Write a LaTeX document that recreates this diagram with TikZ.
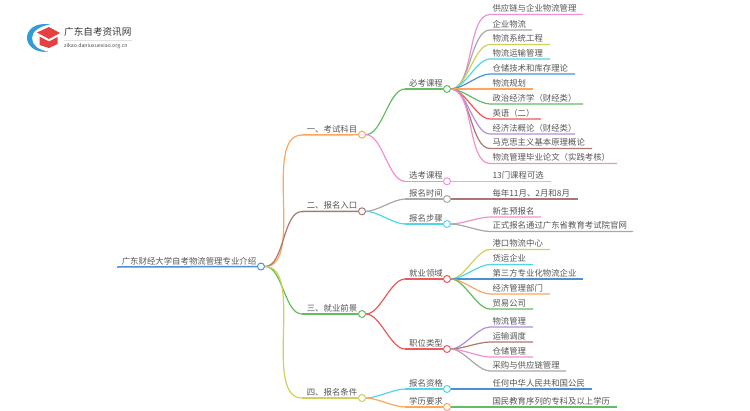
\documentclass[tikz,border=0pt]{standalone}
\usepackage{fontspec}
\setmainfont{Noto Sans CJK SC}
\usetikzlibrary{positioning}
\definecolor{cblue}{HTML}{4A90D2}
\definecolor{corange}{HTML}{FFA55C}
\definecolor{cbrown}{HTML}{A9796F}
\definecolor{cgreen}{HTML}{62BC62}
\definecolor{colive}{HTML}{D0D05C}
\definecolor{cpink}{HTML}{EE90D2}
\definecolor{cgray}{HTML}{A8A8A8}
\definecolor{ccyan}{HTML}{50D6E8}
\definecolor{cred}{HTML}{EE5858}
\definecolor{cpurple}{HTML}{B08FDC}
\definecolor{ctext}{HTML}{555555}
\definecolor{clogoblue}{HTML}{2F9BD8}
\definecolor{clogored}{HTML}{E5403F}
\tikzset{
  txt/.style={anchor=south west, inner xsep=2.5pt, inner ysep=1.6pt, outer sep=0pt, text=ctext, font=\fontsize{8.4}{10}\selectfont, text height=7.4pt, text depth=1pt, align=left},
  leaf/.style={txt, text width=#1pt-5pt},
  joint/.style={circle, draw, fill=white, line width=1pt, inner sep=0pt, minimum size=7pt},
  link/.style={line width=1.2pt},
  trunk/.style={line width=1.5pt}
}
\begin{document}
\begin{tikzpicture}[x=1pt, y=-1pt]
  \useasboundingbox (0,0) rectangle (750,410);
  % logo
  \fill[clogoblue] (50,24.5) .. controls (35,22) and (26.5,30) .. (27,38.5) .. controls (27.5,46) and (36,53.5) .. (48,51.5) .. controls (38,50) and (32,45) .. (32,38) .. controls (32,31) and (40,26) .. (50,24.5) -- cycle;
  \fill[clogored] (37,32.5) -- (49,27) -- (60,33) -- (49,39) -- cycle;
  \fill[clogored] (39.5,36.5) -- (49,41.5) -- (57.5,37) -- (57.5,44) -- (49,48) -- (39.5,45) -- cycle;
  \node[inner sep=0pt, anchor=west, text=black!80, font=\fontsize{9.6}{11}\selectfont] (logotitle) at (64,31.5) {广东自考资讯网};
  \node[inner sep=0pt, anchor=west, text=black!70, font=\fontsize{5.2}{6}\selectfont] (logourl) at (64,46.5) {zikao.daniuxuexiao.org.cn};
  \draw[black!12, line width=.5pt] (logotitle.south west |- 0,40) -- (logotitle.south east |- 0,40);

  % root
  \node[txt, minimum width=144pt] (root) at (117,267) {广东财经大学自考物流管理专业介绍};
  \node[joint, draw=cblue] (r) at (261,266.5) {};

  % first level
  \node[txt, minimum width=60pt] (a1) at (302,135) {一、考试科目};
  \node[txt, minimum width=60pt] (a2) at (302,211.5) {二、报名入口};
  \node[txt, minimum width=60pt] (a3) at (302,314) {三、就业前景};
  \node[txt, minimum width=60pt] (a4) at (302,398) {四、报名条件};
  \node[joint, draw=corange] (ja1) at (362,134.7) {};
  \node[joint, draw=cbrown] (ja2) at (362,211.3) {};
  \node[joint, draw=cgreen] (ja3) at (362,314) {};
  \node[joint, draw=colive] (ja4) at (362,398) {};

  % second level
  \node[txt, minimum width=42pt] (b1) at (405,89) {必考课程};
  \node[txt, minimum width=42pt] (b2) at (405,181.3) {选考课程};
  \node[txt, minimum width=42pt] (b3) at (405,199) {报名时间};
  \node[txt, minimum width=42pt] (b4) at (405,224) {报名步骤};
  \node[txt, minimum width=42pt] (b5) at (405,279) {就业领域};
  \node[txt, minimum width=42pt] (b6) at (405,349) {职位类型};
  \node[txt, minimum width=42pt] (b7) at (405,389) {报名资格};
  \node[txt, minimum width=42pt] (b8) at (405,407) {学历要求};
  \node[joint, draw=cgreen] (jb1) at (447,89) {};
  \node[joint, draw=cpink] (jb2) at (447,181.3) {};
  \node[joint, draw=cgray] (jb3) at (447,199) {};
  \node[joint, draw=ccyan] (jb4) at (447,224) {};
  \node[joint, draw=cred] (jb5) at (447,279) {};
  \node[joint, draw=cred] (jb6) at (447,349) {};
  \node[joint, draw=ccyan] (jb7) at (447,389) {};
  \node[joint, draw=corange] (jb8) at (447,407) {};

  % leaves
  \node[leaf=93] (c1) at (490,14.5) {供应链与企业物流管理};
  \node[leaf=42] (c2) at (490,30) {企业物流};
  \node[leaf=60] (c3) at (490,44.5) {物流系统工程};
  \node[leaf=60] (c4) at (490,59) {物流运输管理};
  \node[leaf=85] (c5) at (490,74) {仓储技术和库存理论};
  \node[leaf=43] (c6) at (490,89) {物流规划};
  \node[leaf=93] (c7) at (490,104) {政治经济学（财经类）};
  \node[leaf=51] (c8) at (490,119) {英语（二）};
  \node[leaf=85] (c9) at (490,134) {经济法概论（财经类）};
  \node[leaf=102] (c10) at (490,148.5) {马克思主义基本原理概论};
  \node[leaf=127] (c11) at (490,163.5) {物流管理毕业论文（实践考核）};
  \node[leaf=61] (c12) at (490,181.3) {13门课程可选};
  \node[leaf=88] (c13) at (490,199) {每年11月、2月和8月};
  \node[leaf=51] (c14) at (490,217) {新生预报名};
  \node[leaf=143] (c15) at (490,231.5) {正式报名通过广东省教育考试院官网};
  \node[leaf=60] (c16) at (490,249.5) {港口物流中心};
  \node[leaf=43] (c17) at (490,264.5) {货运企业};
  \node[leaf=93] (c18) at (490,279) {第三方专业化物流企业};
  \node[leaf=60] (c19) at (490,294) {经济管理部门};
  \node[leaf=43] (c20) at (490,309) {贸易公司};
  \node[leaf=43] (c21) at (490,327) {物流管理};
  \node[leaf=43] (c22) at (490,342) {运输调度};
  \node[leaf=43] (c23) at (490,357) {仓储管理};
  \node[leaf=76] (c24) at (490,371) {采购与供应链管理};
  \node[leaf=102] (c25) at (490,389) {任何中华人民共和国公民};
  \node[leaf=127] (c26) at (490,407) {国民教育序列的专科及以上学历};

  % trunk lines
  \draw[trunk, cblue] (root.south west) -- (r);
  \draw[trunk, corange] (a1.south west) -- (ja1);
  \draw[trunk, cbrown] (a2.south west) -- (ja2);
  \draw[trunk, cgreen] (a3.south west) -- (ja3);
  \draw[trunk, colive] (a4.south west) -- (ja4);
  \draw[trunk, cgreen] (b1.south west) -- (jb1);
  \draw[trunk, cpink] (b2.south west) -- (jb2);
  \draw[trunk, cgray] (b3.south west) -- (jb3);
  \draw[trunk, ccyan] (b4.south west) -- (jb4);
  \draw[trunk, cred] (b5.south west) -- (jb5);
  \draw[trunk, cred] (b6.south west) -- (jb6);
  \draw[trunk, ccyan] (b7.south west) -- (jb7);
  \draw[trunk, corange] (b8.south west) -- (jb8);

  % root to first level
  \draw[link, corange] (r) to [out=0, in=180, looseness=.75] (a1.south west);
  \draw[link, cbrown] (r) to [out=0, in=180, looseness=.75] (a2.south west);
  \draw[link, cgreen] (r) to [out=0, in=180, looseness=.75] (a3.south west);
  \draw[link, colive] (r) to [out=0, in=180, looseness=.75] (a4.south west);

  % first to second level
  \draw[link, cgreen] (ja1) to [out=0, in=180, looseness=.7] (b1.south west);
  \draw[link, cpink] (ja1) to [out=0, in=180, looseness=.7] (b2.south west);
  \draw[link, cgray] (ja2) to [out=0, in=180, looseness=.7] (b3.south west);
  \draw[link, ccyan] (ja2) to [out=0, in=180, looseness=.7] (b4.south west);
  \draw[link, cred] (ja3) to [out=0, in=180, looseness=.7] (b5.south west);
  \draw[link, cred] (ja3) to [out=0, in=180, looseness=.7] (b6.south west);
  \draw[link, ccyan] (ja4) to [out=0, in=180, looseness=.7] (b7.south west);
  \draw[link, corange] (ja4) to [out=0, in=180, looseness=.7] (b8.south west);

  % second level to leaves
  \draw[link, cpink] (jb1) to [out=0, in=180, looseness=.7] (c1.south west) -- (c1.south east);
  \draw[link, cgray] (jb1) to [out=0, in=180, looseness=.7] (c2.south west) -- (c2.south east);
  \draw[link, colive] (jb1) to [out=0, in=180, looseness=.7] (c3.south west) -- (c3.south east);
  \draw[link, ccyan] (jb1) to [out=0, in=180, looseness=.7] (c4.south west) -- (c4.south east);
  \draw[link, cblue] (jb1) to [out=0, in=180, looseness=.7] (c5.south west) -- (c5.south east);
  \draw[trunk, corange] (jb1) -- (c6.south west) -- (c6.south east);
  \draw[link, cgreen] (jb1) to [out=0, in=180, looseness=.7] (c7.south west) -- (c7.south east);
  \draw[link, cred] (jb1) to [out=0, in=180, looseness=.7] (c8.south west) -- (c8.south east);
  \draw[link, cpurple] (jb1) to [out=0, in=180, looseness=.7] (c9.south west) -- (c9.south east);
  \draw[link, cbrown] (jb1) to [out=0, in=180, looseness=.7] (c10.south west) -- (c10.south east);
  \draw[link, cpink] (jb1) to [out=0, in=180, looseness=.7] (c11.south west) -- (c11.south east);
  \draw[trunk, colive] (jb2) -- (c12.south west) -- (c12.south east);
  \draw[trunk, cbrown] (jb3) -- (c13.south west) -- (c13.south east);
  \draw[link, cpink] (jb4) to [out=0, in=180, looseness=.7] (c14.south west) -- (c14.south east);
  \draw[link, cgray] (jb4) to [out=0, in=180, looseness=.7] (c15.south west) -- (c15.south east);
  \draw[link, colive] (jb5) to [out=0, in=180, looseness=.7] (c16.south west) -- (c16.south east);
  \draw[link, ccyan] (jb5) to [out=0, in=180, looseness=.7] (c17.south west) -- (c17.south east);
  \draw[trunk, cblue] (jb5) -- (c18.south west) -- (c18.south east);
  \draw[link, corange] (jb5) to [out=0, in=180, looseness=.7] (c19.south west) -- (c19.south east);
  \draw[link, cgreen] (jb5) to [out=0, in=180, looseness=.7] (c20.south west) -- (c20.south east);
  \draw[link, cpurple] (jb6) to [out=0, in=180, looseness=.7] (c21.south west) -- (c21.south east);
  \draw[link, cbrown] (jb6) to [out=0, in=180, looseness=.7] (c22.south west) -- (c22.south east);
  \draw[link, cpink] (jb6) to [out=0, in=180, looseness=.7] (c23.south west) -- (c23.south east);
  \draw[link, cgray] (jb6) to [out=0, in=180, looseness=.7] (c24.south west) -- (c24.south east);
  \draw[trunk, cblue] (jb7) -- (c25.south west) -- (c25.south east);
  \draw[trunk, cgreen] (jb8) -- (c26.south west) -- (c26.south east);
\end{tikzpicture}
\end{document}
